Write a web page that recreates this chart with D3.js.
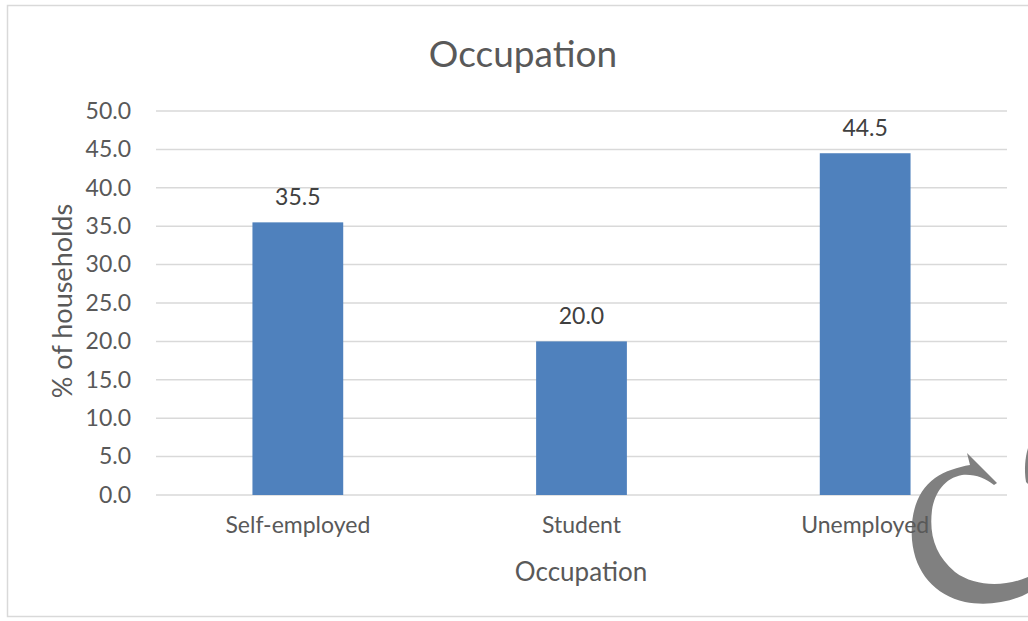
<!DOCTYPE html>
<html><head><meta charset="utf-8">
<script src="https://cdn.jsdelivr.net/npm/d3@7"></script>
<style>body{margin:0;background:#fff;}svg{display:block;font-family:Lato,"Open Sans",sans-serif;}</style>
</head><body>
<script>
const categories = ["Self-employed", "Student", "Unemployed"];
const values = [35.5, 20.0, 44.5];
const yTicks = [0, 5, 10, 15, 20, 25, 30, 35, 40, 45, 50];
const chartTitle = "Occupation";
const xTitle = "Occupation";
const yTitle = "% of households";

const W = 1028, H = 621;
const FONT = "Lato,'Open Sans',sans-serif";
const svg = d3.select("body").append("svg").attr("width", W).attr("height", H);
svg.append("rect").attr("x", 7.5).attr("y", 5.5).attr("width", W).attr("height", 611)
  .attr("fill", "#fff").attr("stroke", "#d9d9d9").attr("stroke-width", 1.5);

const m = {l: 156, r: 1007, t: 111, b: 495};
const x = d3.scaleBand().domain(categories).range([m.l, m.r]).paddingInner(0.68).paddingOuter(0.34);
const y = d3.scaleLinear().domain([0, 50]).range([m.b, m.t]);

const grid = svg.append("g");
grid.selectAll("line").data(yTicks).join("line")
  .attr("x1", m.l).attr("x2", m.r).attr("y1", d => y(d)).attr("y2", d => y(d))
  .attr("stroke", "#d9d9d9").attr("stroke-width", 1.5);

// watermark logo (behind text)
const logo = svg.append("g").attr("fill", "#808080");
logo.append("path").attr("d",
  "M967,453 L997,483 L994,485 C985,478 975,474 962,475 C945,478 935,492 932,510 C929,535 935,555 955,572 C975,587 1005,587 1028,577 L1028,593 C1010,603 985,606 965,602 C935,595 915,573 912,540 C910,512 918,490 935,478 C945,471 958,467 970,465 Z");
logo.append("path").attr("d",
  "M1028,448 C1025,458 1024,470 1026,482 L1028,484 Z");

const yAxis = svg.append("g").attr("transform", `translate(${m.l},0)`)
  .call(d3.axisLeft(y).tickValues(yTicks).tickFormat(d3.format(".1f")).tickSize(0).tickPadding(25));
yAxis.select(".domain").remove();
yAxis.selectAll("text").attr("fill", "#595959").style("font-size", "23px").style("font-family", FONT);

svg.append("g").selectAll("rect").data(values).join("rect")
  .attr("x", (d, i) => x(categories[i])).attr("width", x.bandwidth())
  .attr("y", d => y(d)).attr("height", d => y(0) - y(d)).attr("fill", "#4f81bd");

svg.append("g").selectAll("text").data(values).join("text")
  .attr("x", (d, i) => x(categories[i]) + x.bandwidth() / 2).attr("y", d => y(d) - 17)
  .attr("text-anchor", "middle").attr("fill", "#404040").style("font-size", "23px")
  .text(d => d3.format(".1f")(d));

const xAxis = svg.append("g").attr("transform", `translate(0,${m.b})`)
  .call(d3.axisBottom(x).tickSize(0).tickPadding(22));
xAxis.select(".domain").remove();
xAxis.selectAll("text").attr("fill", "#595959").style("font-size", "23px").style("font-family", FONT);

svg.append("text").attr("x", 523).attr("y", 67).attr("text-anchor", "middle")
  .attr("fill", "#595959").style("font-size", "37px").text(chartTitle);
svg.append("text").attr("x", 581).attr("y", 581).attr("text-anchor", "middle")
  .attr("fill", "#595959").style("font-size", "26px").text(xTitle);
svg.append("text").attr("transform", "translate(72,301) rotate(-90)").attr("text-anchor", "middle")
  .attr("fill", "#595959").style("font-size", "27px").text(yTitle);
</script>
</body></html>
